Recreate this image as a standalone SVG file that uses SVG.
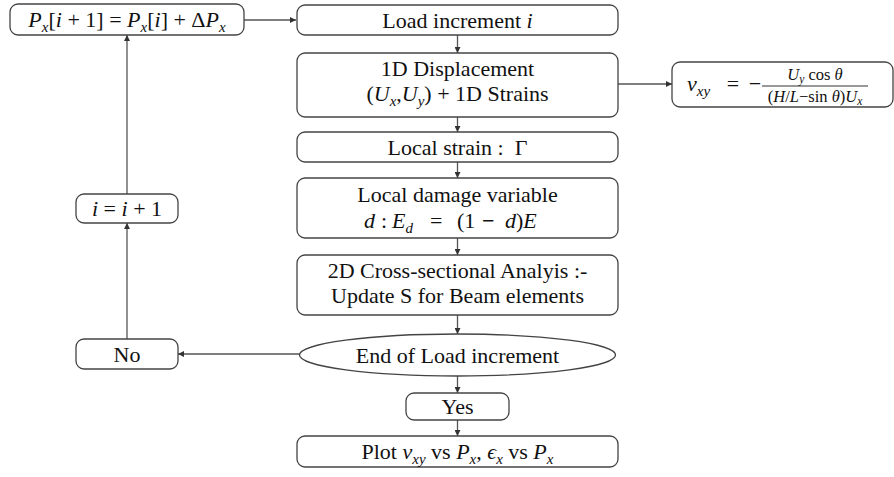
<svg xmlns="http://www.w3.org/2000/svg" width="894" height="477" viewBox="0 0 894 477">
  <defs>
    <marker id="arrow" viewBox="0 0 10 10" refX="10" refY="5" markerWidth="8" markerHeight="6" markerUnits="userSpaceOnUse" orient="auto">
      <path d="M0,0 L10,5 L0,10 z" fill="#333"/>
    </marker>
    <style>
      .box { fill: #fff; stroke: #444; stroke-width: 1.3; }
      .edge { fill: none; stroke: #555; stroke-width: 1.3; marker-end: url(#arrow); }
      text { font-family: "Liberation Serif", "DejaVu Serif", serif; font-size: 22px; fill: #111; text-anchor: middle; }
      .start { text-anchor: start; }
      .it { font-style: italic; }
      .sub { font-size: 15px; font-style: italic; }
      .frac { font-size: 16.5px; }
      .fsub { font-size: 11.5px; font-style: italic; }
    </style>
  </defs>

  <!-- connectors -->
  <g id="connectors">
    <line class="edge" x1="244" y1="20" x2="296" y2="20"/>
    <line class="edge" x1="457.5" y1="35" x2="457.5" y2="53"/>
    <line class="edge" x1="618" y1="84" x2="672" y2="84"/>
    <line class="edge" x1="457.5" y1="117" x2="457.5" y2="132"/>
    <line class="edge" x1="457.5" y1="162" x2="457.5" y2="178"/>
    <line class="edge" x1="457.5" y1="238" x2="457.5" y2="255"/>
    <line class="edge" x1="457.5" y1="315" x2="457.5" y2="334"/>
    <line class="edge" x1="300" y1="354" x2="178" y2="354"/>
    <line class="edge" x1="127" y1="339" x2="127" y2="223"/>
    <line class="edge" x1="127" y1="194" x2="127" y2="35"/>
    <line class="edge" x1="457.5" y1="376" x2="457.5" y2="393"/>
    <line class="edge" x1="457.5" y1="420" x2="457.5" y2="436"/>
  </g>

  <!-- load update -->
  <g id="update">
    <rect class="box" x="10" y="4" width="234" height="31" rx="8"/>
    <text x="127" y="27"><tspan class="it">P</tspan><tspan class="sub" dy="5">x</tspan><tspan dy="-5">[</tspan><tspan class="it">i</tspan> + 1] = <tspan class="it">P</tspan><tspan class="sub" dy="5">x</tspan><tspan dy="-5">[</tspan><tspan class="it">i</tspan>] + Δ<tspan class="it">P</tspan><tspan class="sub" dy="5">x</tspan></text>
  </g>

  <!-- load increment -->
  <g id="load">
    <rect class="box" x="297" y="5" width="321" height="30" rx="8"/>
    <text x="457.5" y="28">Load increment <tspan class="it">i</tspan></text>
  </g>

  <!-- 1D displacement -->
  <g id="disp">
    <rect class="box" x="297" y="53" width="321" height="64" rx="8"/>
    <text x="457.5" y="76">1D Displacement</text>
    <text x="457.5" y="101">(<tspan class="it">U</tspan><tspan class="sub" dy="5">x</tspan><tspan dy="-5">,</tspan><tspan class="it">U</tspan><tspan class="sub" dy="5">y</tspan><tspan dy="-5">) + 1D Strains</tspan></text>
  </g>

  <!-- Poisson ratio -->
  <g id="poisson">
    <rect class="box" x="672" y="62" width="221" height="45" rx="8"/>
    <text class="start" x="687" y="91"><tspan class="it">ν</tspan><tspan class="sub" dy="5">xy</tspan></text>
    <text x="733" y="91">=</text>
    <text x="755" y="91">−</text>
    <text class="frac" x="815" y="80"><tspan class="it">U</tspan><tspan class="fsub" dy="3">y</tspan><tspan dy="-3"> cos </tspan><tspan class="it">θ</tspan></text>
    <line x1="762" y1="86" x2="868" y2="86" stroke="#333" stroke-width="1"/>
    <text class="frac" x="815" y="102">(<tspan class="it">H</tspan>/<tspan class="it">L</tspan>−sin <tspan class="it">θ</tspan>)<tspan class="it">U</tspan><tspan class="fsub" dy="3">x</tspan></text>
  </g>

  <!-- local strain -->
  <g id="strain">
    <rect class="box" x="297" y="132" width="321" height="30" rx="8"/>
    <text x="457.5" y="155" xml:space="preserve">Local strain :  Γ</text>
  </g>

  <!-- damage -->
  <g id="damage">
    <rect class="box" x="297" y="178" width="321" height="60" rx="8"/>
    <text x="457.5" y="202">Local damage variable</text>
    <text class="start" x="364" y="228"><tspan class="it">d</tspan><tspan x="381">:</tspan><tspan class="it" x="392">E</tspan><tspan class="sub" dy="5">d</tspan><tspan x="430" dy="-5">=</tspan><tspan x="457">(1</tspan><tspan x="482" font-weight="bold">−</tspan><tspan class="it" x="505">d</tspan><tspan>)</tspan><tspan class="it">E</tspan></text>
  </g>

  <!-- cross-section analysis -->
  <g id="section">
    <rect class="box" x="297" y="255" width="321" height="60" rx="8"/>
    <text x="457.5" y="278">2D Cross-sectional Analyis :-</text>
    <text x="457.5" y="303">Update S for Beam elements</text>
  </g>

  <!-- decision -->
  <g id="decision">
    <ellipse class="box" cx="457.5" cy="355" rx="158" ry="21"/>
    <text x="457.5" y="363">End of Load increment</text>
  </g>

  <!-- no branch -->
  <g id="no">
    <rect class="box" x="76" y="339" width="102" height="30" rx="8"/>
    <text x="127" y="362">No</text>
  </g>

  <!-- counter -->
  <g id="counter">
    <rect class="box" x="76" y="194" width="102" height="29" rx="8"/>
    <text x="127" y="216"><tspan class="it">i</tspan> = <tspan class="it">i</tspan> + 1</text>
  </g>

  <!-- yes branch -->
  <g id="yes">
    <rect class="box" x="406" y="393" width="103" height="27" rx="8"/>
    <text x="457.5" y="414">Yes</text>
  </g>

  <!-- plot -->
  <g id="plot">
    <rect class="box" x="297" y="436" width="321" height="31" rx="8"/>
    <text x="457.5" y="459">Plot <tspan class="it">ν</tspan><tspan class="sub" dy="5">xy</tspan><tspan dy="-5"> vs </tspan><tspan class="it">P</tspan><tspan class="sub" dy="5">x</tspan><tspan dy="-5">, </tspan><tspan class="it">ϵ</tspan><tspan class="sub" dy="5">x</tspan><tspan dy="-5"> vs </tspan><tspan class="it">P</tspan><tspan class="sub" dy="5">x</tspan></text>
  </g>
</svg>
